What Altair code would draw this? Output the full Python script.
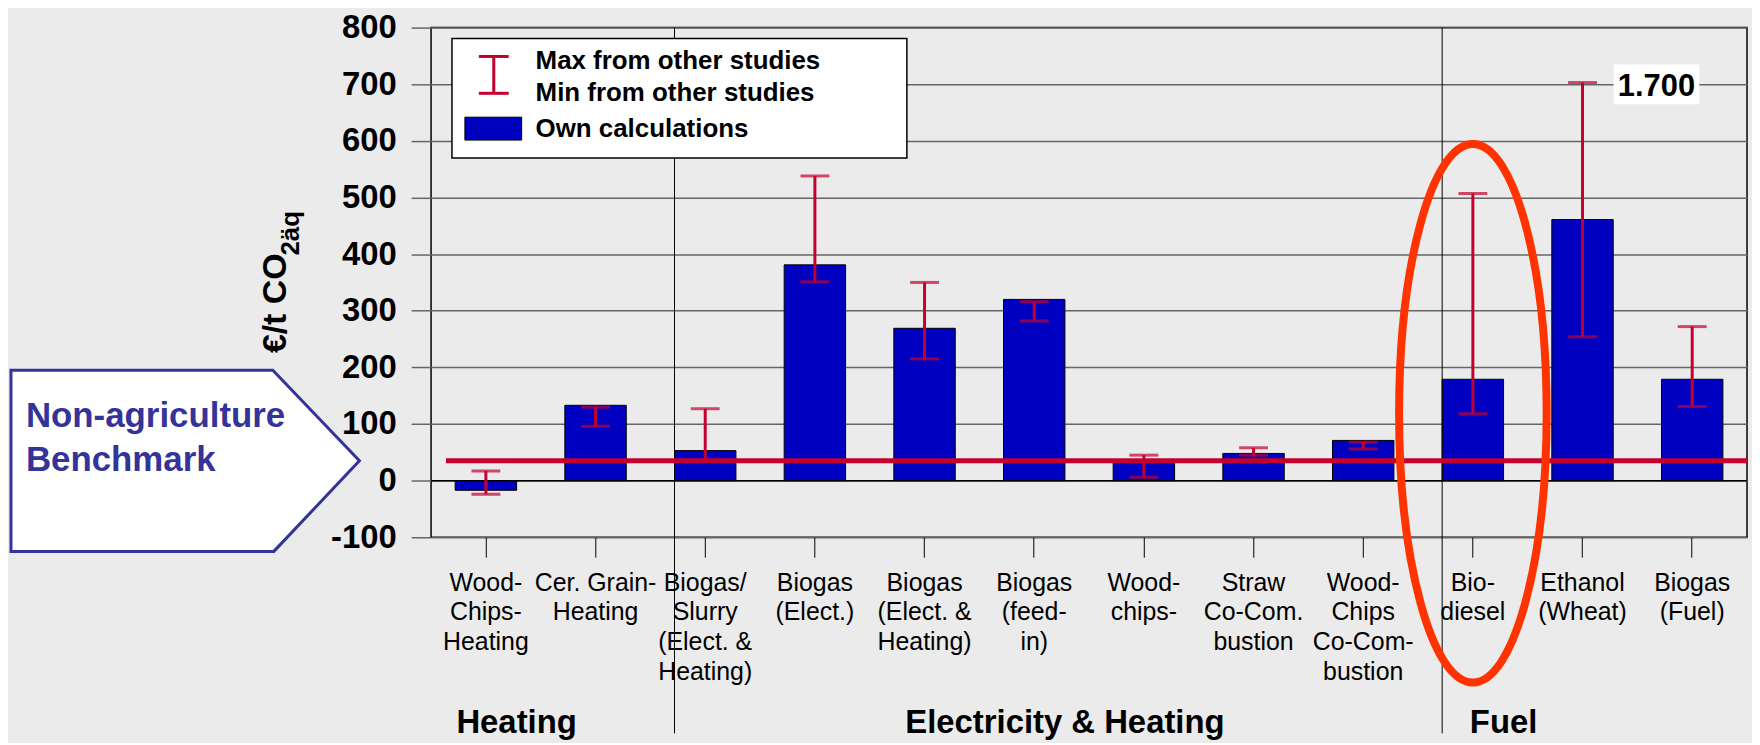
import altair as alt
import pandas as pd

# ---------------- data ----------------
categories = [
    "Wood-|Chips-|Heating", "Cer. Grain-|Heating", "Biogas/|Slurry|(Elect. &|Heating)",
    "Biogas|(Elect.)", "Biogas|(Elect. &|Heating)", "Biogas|(feed-|in)", "Wood-|chips-",
    "Straw|Co-Com.|bustion", "Wood-|Chips|Co-Com-|bustion", "Bio-|diesel",
    "Ethanol|(Wheat)", "Biogas|(Fuel)",
]
own_calc = [-17, 133, 53, 381, 269, 320, 34, 48, 71, 179, 461, 179]
max_other = [17, 130, 127, 538, 350, 316, 45, 58, 68, 507, 703, 272]
min_other = [-24, 96, 35, 351, 215, 282, 6, 45, 56, 118, 254, 131]
benchmark = [35]
ethanol_max_label = "1.700"
groups = ["Heating", "Electricity & Heating", "Fuel"]
group_anchor = [categories[0], categories[5], categories[9]]
separator_cats = [categories[2], categories[9]]
highlight_cat = [categories[9]]
highlight_center = [119]
y_ticks = list(range(-100, 801, 100))
legend_labels = ["Max from other studies", "Min from other studies", "Own calculations"]

df = pd.DataFrame({"cat": categories, "own": own_calc, "mx": max_other, "mn": min_other})
bench_df = pd.DataFrame({"v": benchmark})
zero_df = pd.DataFrame({"v": [0]})
grp_df = pd.DataFrame({"cat": group_anchor, "label": groups})
sep_df = pd.DataFrame({"cat": separator_cats})
ell_df = pd.DataFrame({"cat": highlight_cat, "v": highlight_center})
one = pd.DataFrame({"a": [0]})

W, H = 1322, 512
RED = "#C4002F"
BLUE = "#0000C0"
FONT = "Liberation Sans"

xs = alt.Scale(domain=categories, paddingInner=0.44, paddingOuter=0.22)
ys = alt.Scale(domain=[-100, 800], nice=False, zero=False)

x_axis = alt.Axis(
    title=None, labelExpr="split(datum.label, '|')", labelFontSize=25, labelLineHeight=30,
    labelAngle=0, labelPadding=13, tickSize=20, tickColor="black", tickWidth=1,
    domain=False, labelColor="black", labelOverlap=False, labelBound=False, labelLimit=0,
    grid=False, labelFont=FONT)
y_axis = alt.Axis(
    values=y_ticks, title=None, labelFontSize=33, labelFontWeight="bold",
    labelExpr="replace(datum.label, '\u2212', '-')",
    labelPadding=15, tickSize=20, tickColor="#666666", tickWidth=1.5,
    gridColor="#666666", gridWidth=1.5, domain=False, labelColor="black",
    labelFont=FONT, labelOverlap=False)


def X(bp=None):
    if bp is None:
        return alt.X("cat:N", scale=xs, sort=categories, axis=x_axis)
    return alt.X("cat:N", scale=xs, sort=categories, axis=x_axis, bandPosition=bp)


def Y(field):
    return alt.Y(f"{field}:Q", scale=ys, axis=y_axis)


bars = alt.Chart(df).mark_bar(color=BLUE, stroke="black", strokeWidth=1).encode(
    x=X(), y=Y("own"))

zero_line = alt.Chart(zero_df).mark_rule(color="black", strokeWidth=1.5).encode(
    y=Y("v"), x=alt.value(0), x2=alt.value(W))

err = alt.Chart(df).mark_rule(color=RED, strokeWidth=3).encode(
    x=X(), y=Y("mn"), y2="mx:Q")
cap_hi = alt.Chart(df).mark_tick(color=RED, thickness=3, size=29).encode(x=X(), y=Y("mx"))
cap_lo = alt.Chart(df).mark_tick(color=RED, thickness=3, size=29).encode(x=X(), y=Y("mn"))

bench = alt.Chart(bench_df).mark_rule(color=RED, strokeWidth=5).encode(
    y=Y("v"), x=alt.value(15), x2=alt.value(W))

seps = alt.Chart(sep_df).mark_rule(color="black", strokeWidth=1).encode(
    x=X(0), y=alt.value(0), y2=alt.value(709))

grp = alt.Chart(grp_df).mark_text(fontSize=33, fontWeight="bold", font=FONT,
                                  baseline="middle", align="center", color="black").encode(
    x=X(1), y=alt.value(699), text="label:N")

# ellipse highlight around Bio-diesel
a, k = 0.274, 0.552
ell_path = (f"M0,-1 C{k*a:.4f},-1 {a},-{k} {a},0 C{a},{k} {k*a:.4f},1 0,1 "
            f"C-{k*a:.4f},1 -{a},{k} -{a},0 C-{a},-{k} -{k*a:.4f},-1 0,-1 Z")
ellipse = alt.Chart(ell_df).mark_point(shape=ell_path, size=541 ** 2, filled=False,
                                       stroke="#FF3300", strokeWidth=8, opacity=1).encode(
    x=X(), y=Y("v"))

# callout arrow box
callout_path = "M-1,-0.52 L0.503,-0.52 L1,0 L0.509,0.52 L-1,0.52 Z"
callout = alt.Chart(bench_df).mark_point(shape=callout_path, size=350 ** 2, filled=True,
                                         fill="white", stroke="#333399", strokeWidth=3,
                                         opacity=1).encode(
    x=alt.value(-247), y=Y("v"))


def txt(text, x, y, **kw):
    return alt.Chart(one).mark_text(text=text, font=FONT, **kw).encode(
        x=alt.value(x), y=alt.value(y))


def rule(x, y, x2, y2, **kw):
    return alt.Chart(one).mark_rule(**kw).encode(
        x=alt.value(x), y=alt.value(y), x2=alt.value(x2), y2=alt.value(y2))


callout_t1 = txt("Non-agriculture", -407, 390, fontSize=35, fontWeight="bold",
                 color="#333399", align="left", baseline="middle")
callout_t2 = txt("Benchmark", -407, 434, fontSize=35, fontWeight="bold",
                 color="#333399", align="left", baseline="middle")

ytitle = txt("€/t CO", -156, 327, fontSize=34, fontWeight="bold", angle=270,
             align="left", baseline="middle", color="black")
ytitle_sub = txt("2äq", -141, 229, fontSize=26, fontWeight="bold", angle=270,
                 align="left", baseline="middle", color="black")

# legend
leg_box = alt.Chart(one).mark_rect(fill="white", stroke="black", strokeWidth=1.5).encode(
    x=alt.value(21), x2=alt.value(478), y=alt.value(11), y2=alt.value(131))
leg_v = rule(63, 29, 63, 66, color=RED, strokeWidth=3)
leg_c1 = rule(48, 29, 78, 29, color=RED, strokeWidth=3)
leg_c2 = rule(48, 66, 78, 66, color=RED, strokeWidth=3)
leg_sw = alt.Chart(one).mark_rect(fill=BLUE, stroke="black", strokeWidth=1).encode(
    x=alt.value(34), x2=alt.value(91), y=alt.value(90), y2=alt.value(113))
leg_t = [txt(legend_labels[i], 105, yy, fontSize=26, fontWeight="bold", align="left",
             baseline="middle", color="black") for i, yy in enumerate([34, 66, 102])]

# 1.700 label
lab_box = alt.Chart(one).mark_rect(fill="white").encode(
    x=alt.value(1188), x2=alt.value(1274), y=alt.value(37), y2=alt.value(77))
lab_t = txt(ethanol_max_label, 1231, 60, fontSize=31, fontWeight="bold", align="center",
            baseline="middle", color="black")

chart = alt.layer(
    bars, zero_line, seps, err, cap_hi, cap_lo, bench, ellipse, callout,
    callout_t1, callout_t2, ytitle, ytitle_sub, leg_box, leg_v, leg_c1, leg_c2, leg_sw,
    *leg_t, lab_box, lab_t, grp,
).properties(
    width=W, height=H,
    padding={"left": 425, "top": 18, "right": 5, "bottom": 205},
    autosize=alt.AutoSizeParams(type="none"),
).configure(background="#EBEBEB", font=FONT).configure_view(
    fill="#EBEBEB", stroke="black", strokeWidth=1.5)

chart.save("out.html", embed_options={"renderer": "svg", "actions": False})
